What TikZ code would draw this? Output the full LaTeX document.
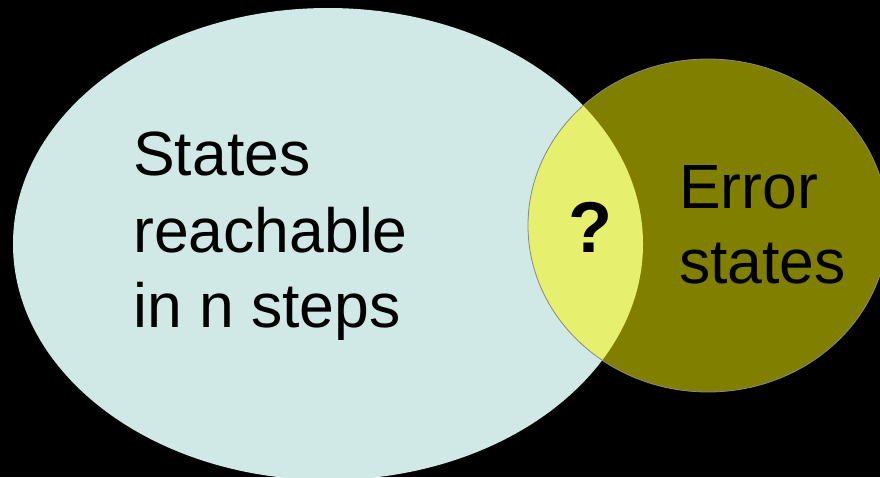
\documentclass[tikz,border=0pt]{standalone}
\usepackage{fontspec}
\setmainfont{Liberation Sans}
\definecolor{bgblack}{HTML}{000000}
\definecolor{reachfill}{HTML}{D0E8E6}
\definecolor{errfill}{HTML}{807F00}
\definecolor{lensfill}{HTML}{E6F06E}
\definecolor{edgegray}{HTML}{8A8A8A}
\tikzset{
  bigtext/.style={anchor=base west, inner sep=0pt, font=\fontsize{62.5}{76}\selectfont, text=black},
  qtext/.style={anchor=center, inner sep=0pt, font=\fontsize{72}{80}\selectfont\bfseries, text=black},
}
\begin{document}
\begin{tikzpicture}[x=1pt,y=-1pt]
  \fill[bgblack] (0,0) rectangle (880,477);
  \useasboundingbox (0,0) rectangle (880,477);
  % reachable states
  \fill[reachfill] (328,244) ellipse [x radius=315, y radius=236];
  % error states
  \fill[errfill] (708,225.5) ellipse [x radius=180, y radius=166.5];
  % intersection
  \begin{scope}
    \clip (328,244) ellipse [x radius=315, y radius=236];
    \fill[lensfill] (708,225.5) ellipse [x radius=180, y radius=166.5];
  \end{scope}
  \draw[edgegray, line width=0.8pt] (708,225.5) ellipse [x radius=180, y radius=166.5];
  % texts
  \node[bigtext] (l1) at (133,175) {States};
  \node[bigtext] (l2) at (133,252) {reachable};
  \node[bigtext] (l3) at (133,327) {in n steps};
  \node[bigtext] (e1) at (679,208) {Error};
  \node[bigtext] (e2) at (679,283) {states};
  \node[qtext] (q) at (590,227) {?};
\end{tikzpicture}
\end{document}
